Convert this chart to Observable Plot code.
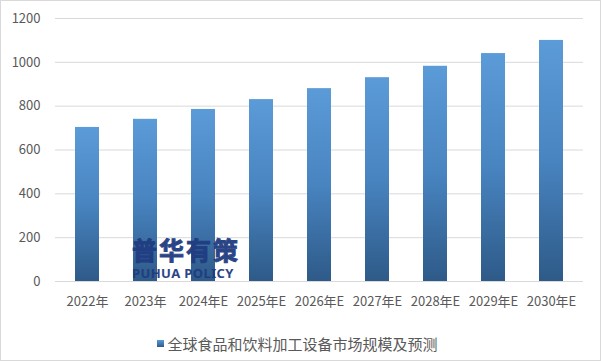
<!DOCTYPE html>
<html><head><meta charset="utf-8">
<script src="https://cdn.jsdelivr.net/npm/d3@7"></script>
<script src="https://cdn.jsdelivr.net/npm/@observablehq/plot@0.6"></script>
<style>
html,body{margin:0;padding:0;background:#fff;}
#wrap{position:relative;width:601px;height:361px;box-sizing:border-box;border:1px solid #d9d9d9;background:#fff;font-family:"Noto Sans CJK SC","Noto Sans",sans-serif;overflow:hidden;}
#wrap svg{display:block;}
#legend{height:42px;box-sizing:border-box;padding-top:9px;display:flex;justify-content:center;align-items:center;align-self:flex-start;color:#595959;font-size:15px;line-height:16px;}
#legend .sw{width:7px;height:7px;margin-right:3px;margin-left:-6px;background:linear-gradient(#5b9bd8,#2e5a88);}
#legend .lab{height:16px;}
#wm{position:absolute;left:131px;top:235px;color:#1f3c80;opacity:0.95;font-weight:bold;pointer-events:none;}
#wm .cn{font-size:25px;line-height:27px;letter-spacing:2px;-webkit-text-stroke:0.9px #1f3c80;}
#wm .en{font-size:13px;line-height:13px;letter-spacing:0.4px;margin-top:4px;font-family:"Noto Sans",sans-serif;}
</style></head><body><div id="wrap"></div>
<script>
const years = ["2022年","2023年","2024年E","2025年E","2026年E","2027年E","2028年E","2029年E","2030年E"];
const values = [703, 740, 785, 830, 880, 930, 982, 1040, 1100];
const yTicks = [0, 200, 400, 600, 800, 1000, 1200];
const seriesName = "全球食品和饮料加工设备市场规模及预测";
const watermarkCN = "普华有策";
const watermarkEN = "PUHUA POLICY";

const data = years.map((year, i) => ({year, value: values[i]}));

const chart = Plot.plot({
  width: 599, height: 317,
  marginLeft: 54, marginRight: 17, marginTop: 17, marginBottom: 37,
  style: {fontFamily: '"Noto Sans CJK SC","Noto Sans",sans-serif', fontSize: "13px", color: "#595959", background: "transparent", overflow: "visible"},
  x: {domain: years, paddingInner: 0.59, paddingOuter: 0.295, label: null, tickSize: 0, tickPadding: 15},
  y: {domain: [0, 1200], ticks: yTicks, tickFormat: d => String(d), label: null, tickSize: 0, tickPadding: 15},
  marks: [
    Plot.gridY(yTicks, {stroke: "#d9d9d9", strokeOpacity: 1}),
    Plot.barY(data, {x: "year", y: "value", fill: "url(#barGrad)"})
  ]
});

const defs = d3.select(chart).insert("defs", ":first-child");
const g = defs.append("linearGradient").attr("id", "barGrad")
  .attr("x1", 0).attr("y1", 0).attr("x2", 0).attr("y2", 1);
g.append("stop").attr("offset", "0%").attr("stop-color", "#5b9bd8");
g.append("stop").attr("offset", "50%").attr("stop-color", "#4884c0");
g.append("stop").attr("offset", "100%").attr("stop-color", "#2e5a88");

const wrap = document.getElementById("wrap");
wrap.appendChild(chart);

const legend = document.createElement("div");
legend.id = "legend";
legend.innerHTML = `<div class="sw"></div><div class="lab"></div>`;
legend.querySelector(".lab").textContent = seriesName;
wrap.appendChild(legend);

const wm = document.createElement("div");
wm.id = "wm";
wm.innerHTML = `<div class="cn"></div><div class="en"></div>`;
wm.querySelector(".cn").textContent = watermarkCN;
wm.querySelector(".en").textContent = watermarkEN;
wrap.appendChild(wm);
</script>
</body></html>
